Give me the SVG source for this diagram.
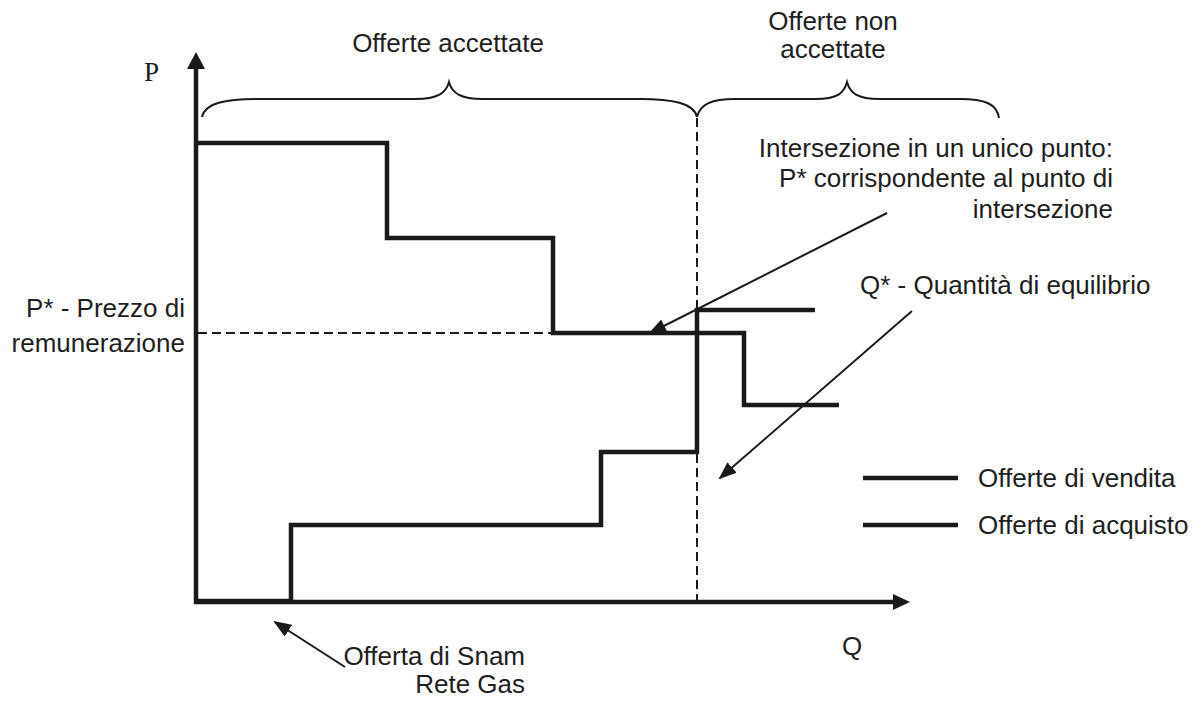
<svg xmlns="http://www.w3.org/2000/svg" width="1204" height="702" viewBox="0 0 1204 702">
  <style>
    .lbl { font-family: "Liberation Sans", Arial, sans-serif; font-size: 26px; fill: #1e1e1e; }
    .ser { font-family: "Liberation Serif", "Times New Roman", serif; font-size: 27px; fill: #1e1e1e; }
    .curve { fill: none; stroke: #1a1a1a; stroke-width: 4.5; stroke-linejoin: miter; }
    .axis { fill: none; stroke: #1a1a1a; stroke-width: 4.5; }
    .dash { fill: none; stroke: #1a1a1a; stroke-width: 2; stroke-dasharray: 9 5; }
    .brace { fill: none; stroke: #1a1a1a; stroke-width: 2; }
    .ptr { fill: none; stroke: #1a1a1a; stroke-width: 2; marker-end: url(#ah); }
  </style>
  <defs>
    <marker id="ah" viewBox="0 0 18 14" refX="16" refY="7" markerWidth="18" markerHeight="14" markerUnits="userSpaceOnUse" orient="auto">
      <path d="M0,0 L18,7 L0,14 z" fill="#1a1a1a"/>
    </marker>
  </defs>
  <rect width="1204" height="702" fill="#ffffff"/>

  <g id="axes">
    <line class="axis" x1="196" y1="604" x2="196" y2="66"/>
    <polygon points="196,52 187,69 205,69" fill="#1a1a1a"/>
    <line class="axis" x1="194" y1="602" x2="895" y2="602"/>
    <polygon points="910,602 893,594 893,610" fill="#1a1a1a"/>
    <text class="ser" x="144" y="81">P</text>
    <text class="lbl" x="842" y="655">Q</text>
  </g>

  <g id="guides">
    <line class="dash" x1="697" y1="118" x2="697" y2="600"/>
    <line class="dash" x1="198" y1="333" x2="553" y2="333"/>
  </g>

  <g id="brace-accepted">
    <path class="brace" d="M202,117 C205,103 225,99 258,99 L415,99 C438,99 446,93 449,82 C452,93 460,99 483,99 L640,99 C672,99 694,103 697,117"/>
    <text class="lbl" x="448" y="52" text-anchor="middle">Offerte accettate</text>
  </g>

  <g id="brace-rejected">
    <path class="brace" d="M697,117 C700,104 712,99 735,99 L815,99 C838,99 844,93 847,82 C850,93 857,99 880,99 L960,99 C985,99 997,104 999,118"/>
    <text class="lbl" x="833" y="30" text-anchor="middle">Offerte non</text>
    <text class="lbl" x="833" y="58" text-anchor="middle">accettate</text>
  </g>

  <g id="sell-curve">
    <polyline class="curve" points="198,143 387,143 387,238 553,238 553,333 744,333 744,405 839,405"/>
  </g>

  <g id="buy-curve">
    <polyline class="curve" points="196,601 291,601 291,525 601,525 601,452 697,452 697,310 815,310"/>
  </g>

  <g id="label-pstar">
    <text class="lbl" x="185" y="317" text-anchor="end">P* - Prezzo di</text>
    <text class="lbl" x="185" y="352" text-anchor="end">remunerazione</text>
  </g>

  <g id="label-intersection">
    <text class="lbl" x="1113" y="157" text-anchor="end">Intersezione in un unico punto:</text>
    <text class="lbl" x="1113" y="187" text-anchor="end">P* corrispondente al punto di</text>
    <text class="lbl" x="1113" y="218" text-anchor="end">intersezione</text>
  </g>

  <g id="label-qstar">
    <text class="lbl" x="860" y="294">Q* - Quantità di equilibrio</text>
  </g>

  <g id="label-snam">
    <text class="lbl" x="525" y="665" text-anchor="end">Offerta di Snam</text>
    <text class="lbl" x="525" y="693" text-anchor="end">Rete Gas</text>
  </g>

  <g id="legend">
    <line class="curve" x1="863" y1="478" x2="958" y2="478"/>
    <text class="lbl" x="978" y="487">Offerte di vendita</text>
    <line class="curve" x1="863" y1="525" x2="958" y2="525"/>
    <text class="lbl" x="978" y="534">Offerte di acquisto</text>
  </g>

  <g id="connectors">
    <line class="ptr" x1="887" y1="213" x2="650" y2="333"/>
    <line class="ptr" x1="912" y1="311" x2="720" y2="478"/>
    <line class="ptr" x1="345" y1="667" x2="275" y2="622"/>
  </g>
</svg>
